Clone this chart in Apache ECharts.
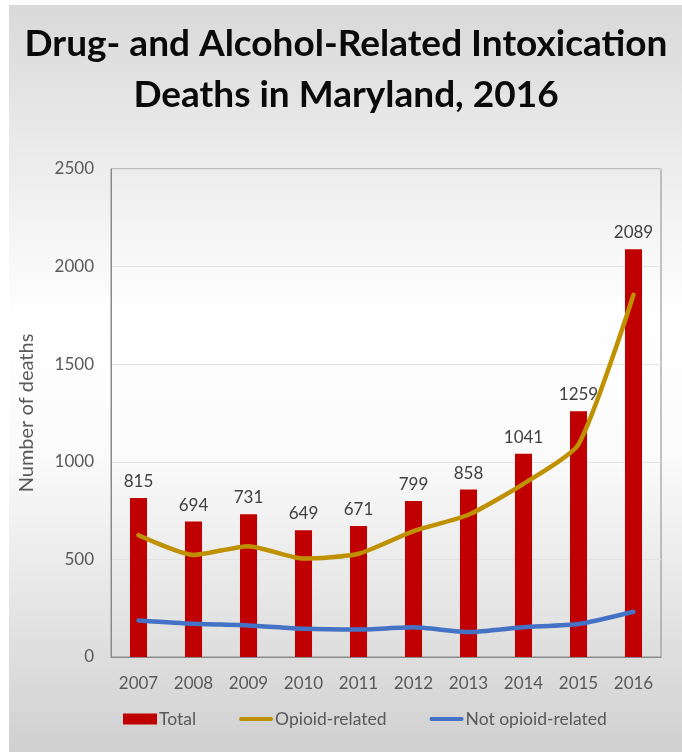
<!DOCTYPE html>
<html>
<head>
<meta charset="utf-8">
<script src="https://cdn.jsdelivr.net/npm/echarts@6/dist/echarts.min.js"></script>
<style>
  html, body { margin: 0; padding: 0; background: #ffffff; }
  #chart { width: 682px; height: 752px; }
</style>
</head>
<body>
<div id="chart"></div>
<script>
// Intoxication deaths in Maryland by year
const years = ['2007', '2008', '2009', '2010', '2011', '2012', '2013', '2014', '2015', '2016'];
const totalDeaths = [815, 694, 731, 649, 671, 799, 858, 1041, 1259, 2089];
const opioidRelated = [624, 523, 568, 504, 529, 645, 729, 887, 1089, 1856];
const notOpioidRelated = [187, 170, 162, 145, 141, 152, 128, 153, 169, 232];
const yTicks = [0, 500, 1000, 1500, 2000, 2500];

const labelFont = 'Lato, "Open Sans", sans-serif';
const textGray = '#595959';
const linePill = 'path://M2,0 L34,0 A2,2 0 0 1 34,4 L2,4 A2,2 0 0 1 2,0 Z';

const chart = echarts.init(document.getElementById('chart'), null, { renderer: 'canvas' });

chart.setOption({
  backgroundColor: '#ffffff',
  animation: false,
  graphic: [{
    type: 'rect',
    z: -10,
    shape: { x: 9, y: 5, width: 673, height: 747 },
    style: {
      fill: new echarts.graphic.LinearGradient(0, 0, 0, 1, [
        { offset: 0, color: '#d9d9d9' },
        { offset: 0.42, color: '#ffffff' },
        { offset: 0.6, color: '#fbfbfb' },
        { offset: 1, color: '#d0d0d0' }
      ])
    }
  }],
  title: {
    text: 'Drug- and Alcohol-Related Intoxication\nDeaths in Maryland, 2016',
    left: 341,
    textAlign: 'center',
    top: 14,
    textStyle: {
      fontFamily: 'Lato, "Open Sans", sans-serif',
      fontWeight: 'bold',
      fontSize: 37,
      lineHeight: 51,
      color: '#0a0a0a'
    }
  },
  grid: {
    left: 111,
    right: 21,
    top: 169,
    bottom: 95,
    show: true,
    borderColor: '#8a8a8a',
    borderWidth: 1,
    backgroundColor: 'transparent'
  },
  legend: {
    bottom: 19,
    left: 118,
    itemWidth: 34,
    itemHeight: 11,
    itemGap: 43,
    textStyle: { fontFamily: labelFont, fontSize: 17.5, color: textGray, padding: [0, 0, 0, -3] },
    data: [
      { name: 'Total', icon: 'rect' },
      { name: 'Opioid-related', icon: linePill },
      { name: 'Not opioid-related', icon: linePill }
    ]
  },
  xAxis: {
    type: 'category',
    data: years,
    axisLine: { lineStyle: { color: '#8a8a8a', width: 1 } },
    axisTick: { show: false },
    axisLabel: { fontFamily: labelFont, fontSize: 17, color: textGray, margin: 18 }
  },
  yAxis: {
    type: 'value',
    min: yTicks[0],
    max: yTicks[yTicks.length - 1],
    interval: 500,
    name: 'Number of deaths',
    nameLocation: 'middle',
    nameGap: 74,
    nameTextStyle: { fontFamily: labelFont, fontSize: 20, color: textGray },
    axisLine: { show: true, lineStyle: { color: '#8a8a8a', width: 1 } },
    axisTick: { show: false },
    axisLabel: {
      fontFamily: labelFont,
      fontSize: 17,
      color: textGray,
      margin: 17,
      formatter: (v) => String(v)
    },
    splitLine: { lineStyle: { color: '#e2e2e2', width: 1 } }
  },
  series: [
    {
      name: 'Total',
      type: 'bar',
      data: totalDeaths,
      barWidth: '31%',
      itemStyle: { color: '#c00000' },
      label: {
        show: true,
        position: 'top',
        distance: 8,
        fontFamily: labelFont,
        fontSize: 17,
        color: '#404040'
      },
      z: 2
    },
    {
      name: 'Opioid-related',
      type: 'line',
      data: opioidRelated,
      smooth: 0.2,
      showSymbol: false,
      symbol: 'none',
      itemStyle: { color: '#bf9000' },
      lineStyle: { color: '#bf9000', width: 4.5, cap: 'round' },
      z: 3
    },
    {
      name: 'Not opioid-related',
      type: 'line',
      data: notOpioidRelated,
      smooth: 0.2,
      showSymbol: false,
      symbol: 'none',
      itemStyle: { color: '#4472c4' },
      lineStyle: { color: '#4472c4', width: 4.5, cap: 'round' },
      z: 3
    }
  ]
});
</script>
</body>
</html>
